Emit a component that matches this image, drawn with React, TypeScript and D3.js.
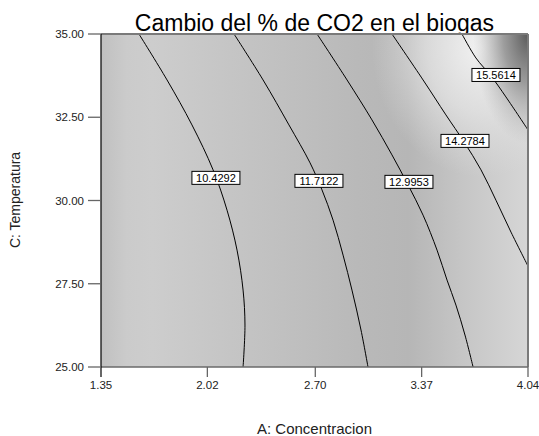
import React from "react";
import * as d3 from "d3";

// ---- data ----
const TITLE = "Cambio del % de CO2 en el biogas";
const X_TITLE = "A: Concentracion";
const Y_TITLE = "C: Temperatura";
const A_TICKS = [1.35, 2.02, 2.7, 3.37, 4.04];
const C_TICKS = [25, 27.5, 30, 32.5, 35];

const LEVELS = ["10.4292", "11.7122", "12.9953", "14.2784", "15.5614"];

const contour1 = [[1.589, 35], [1.766, 33.62], [1.923, 32.27], [2.056, 30.92], [2.144, 29.71], [2.207, 28.51], [2.245, 27.31], [2.257, 26.26], [2.245, 25.0]];
const contour2 = [[2.188, 35], [2.371, 33.62], [2.534, 32.27], [2.667, 31.13], [2.742, 30.32], [2.812, 29.41], [2.875, 28.36], [2.931, 27.31], [2.988, 26.11], [3.032, 25.0]];
const contour3 = [[2.711, 35], [2.9, 33.62], [3.057, 32.42], [3.183, 31.37], [3.284, 30.47], [3.379, 29.56], [3.467, 28.51], [3.53, 27.61], [3.586, 26.86], [3.643, 25.96], [3.694, 25.0]];
const contour4 = [[3.183, 35], [3.379, 33.62], [3.523, 32.57], [3.637, 31.76], [3.744, 30.92], [3.838, 30.01], [3.933, 29.05], [4.04, 28.03]];
const contour5 = [[3.624, 35], [3.712, 34.28], [3.807, 33.74], [3.901, 33.11], [4.04, 32.12]];

const LABEL_A = [2.074, 2.723, 3.29, 3.643, 3.838];
const LABEL_C = [30.68, 30.59, 30.56, 31.79, 33.77];

// ---- layout ----
const W = 539, H = 436;
const L = 101, R = 528, T = 34, B = 367;

export default function App() {
  const x = d3.scaleLinear().domain([1.35, 4.04]).range([L, R]);
  const y = d3.scaleLinear().domain([25, 35]).range([B, T]);
  const line = d3
    .line<number[]>()
    .x((d) => x(d[0]))
    .y((d) => y(d[1]))
    .curve(d3.curveCatmullRom.alpha(0.5));
  const contours = [contour1, contour2, contour3, contour4, contour5];
  const font = "Arial, 'Liberation Sans', Helvetica, sans-serif";

  return (
    <svg width={W} height={H} style={{ position: "absolute", left: 0, top: 0, background: "#fff" }} fontFamily={font}>
      <defs>
        <clipPath id="plotClip">
          <rect x={L} y={T} width={R - L} height={B - T} />
        </clipPath>
        <linearGradient id="baseGrad" x1="0" x2="1" y1="0" y2="0">
          <stop offset="0" stopColor="#c0c0c0" />
          <stop offset="0.06" stopColor="#cbcbcb" />
          <stop offset="0.12" stopColor="#cdcdcd" />
          <stop offset="0.28" stopColor="#c6c6c6" />
          <stop offset="0.45" stopColor="#bfbfbf" />
          <stop offset="0.6" stopColor="#b9b9b9" />
          <stop offset="0.72" stopColor="#b6b6b6" />
          <stop offset="0.85" stopColor="#c6c6c6" />
          <stop offset="1" stopColor="#d6d6d6" />
        </linearGradient>
        <radialGradient id="lightGrad">
          <stop offset="0" stopColor="#f2f2f2" stopOpacity="1" />
          <stop offset="0.5" stopColor="#e6e6e6" stopOpacity="0.7" />
          <stop offset="1" stopColor="#e0e0e0" stopOpacity="0" />
        </radialGradient>
        <radialGradient id="darkGrad">
          <stop offset="0" stopColor="#5a5a5a" stopOpacity="1" />
          <stop offset="0.45" stopColor="#8a8a8a" stopOpacity="0.8" />
          <stop offset="1" stopColor="#b0b0b0" stopOpacity="0" />
        </radialGradient>
      </defs>

      <text x={(L + R) / 2} y={31} textAnchor="middle" fontSize={23} fill="#000">
        {TITLE}
      </text>

      <g clipPath="url(#plotClip)">
        <rect x={L} y={T} width={R - L} height={B - T} fill="url(#baseGrad)" />
        <ellipse cx={x(3.75)} cy={y(34.6)} rx={110} ry={130} fill="url(#lightGrad)" />
        <ellipse cx={R} cy={T} rx={55} ry={110} fill="url(#darkGrad)" />
      </g>

      <g clipPath="url(#plotClip)">
        {contours.map((c, i) => (
          <path key={i} d={line(c) || ""} fill="none" stroke="#000" strokeWidth={1} />
        ))}
      </g>

      {LEVELS.map((lv, i) => {
        const cx = x(LABEL_A[i]);
        const cy = y(LABEL_C[i]);
        return (
          <g key={lv}>
            <rect x={cx - 24} y={cy - 6.5} width={48} height={13} fill="#fff" stroke="#000" strokeWidth={1} />
            <text x={cx} y={cy + 4} textAnchor="middle" fontSize={11} fill="#000">
              {lv}
            </text>
          </g>
        );
      })}

      {/* frame */}
      <line x1={L} x2={R} y1={T} y2={T} stroke="#7a7a7a" strokeWidth={2} />
      <line x1={R} x2={R} y1={T} y2={B} stroke="#7a7a7a" strokeWidth={2} />
      <line x1={L} x2={R} y1={B} y2={B} stroke="#6a6a6a" strokeWidth={1.5} />
      <line x1={L} x2={L} y1={T} y2={B + 10} stroke="#000" strokeWidth={1.2} />

      {C_TICKS.map((t) => (
        <g key={t}>
          <line x1={L - 13} x2={L} y1={y(t)} y2={y(t)} stroke="#666" strokeWidth={1.3} />
          <text x={L - 17} y={y(t) + 4} textAnchor="end" fontSize={11.5} fill="#222">
            {t.toFixed(2)}
          </text>
        </g>
      ))}
      {A_TICKS.map((t, i) => (
        <g key={t}>
          {i > 0 && <line x1={x(t)} x2={x(t)} y1={B} y2={B + 10} stroke="#666" strokeWidth={1.3} />}
          <text x={x(t)} y={B + 22} textAnchor="middle" fontSize={11.5} fill="#222">
            {t.toFixed(2)}
          </text>
        </g>
      ))}

      <text x={(L + R) / 2} y={434} textAnchor="middle" fontSize={15} fill="#222">
        {X_TITLE}
      </text>
      <text transform={`translate(20,200) rotate(-90)`} textAnchor="middle" fontSize={14} fill="#222">
        {Y_TITLE}
      </text>
    </svg>
  );
}
